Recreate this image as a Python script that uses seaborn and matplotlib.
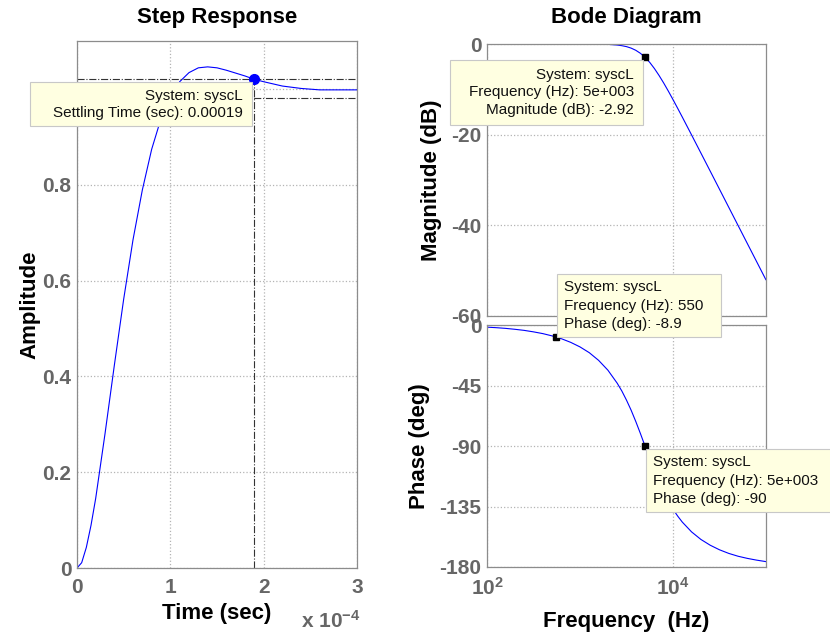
import matplotlib
matplotlib.use("Agg")
import matplotlib.pyplot as plt
import seaborn as sns
from matplotlib.patches import Rectangle
from matplotlib.ticker import NullLocator

# step response of syscL (time in units of 1e-4 s)
step_time = [0, 0.05, 0.1, 0.15, 0.2, 0.3, 0.4, 0.5, 0.6, 0.7, 0.8, 0.9, 1.0, 1.1,
             1.2, 1.3, 1.4, 1.5, 1.6, 1.7, 1.8, 1.9, 2.0, 2.2, 2.4, 2.6, 2.8, 3.0]
step_amp = [0, 0.011, 0.043, 0.089, 0.145, 0.280, 0.423, 0.561, 0.685, 0.789, 0.874,
            0.938, 0.984, 1.015, 1.034, 1.044, 1.046, 1.044, 1.039, 1.033, 1.027,
            1.020, 1.015, 1.006, 1.001, 0.998, 0.998, 0.998]
settle_time = 1.9
settle_amp = 1.02
settle_band = [0.98, 1.02]

# bode diagram of syscL
freq_hz = [100, 126, 158, 200, 251, 316, 398, 501, 631, 794, 1000, 1259, 1585, 1995,
           2512, 2818, 3162, 3548, 3981, 4467, 5012, 5623, 6310, 7079, 7943, 8913,
           10000, 11220, 12589, 15849, 19953, 25119, 31623, 39811, 50119, 63096,
           79433, 100000]
mag_db = [0, 0, 0, 0, 0, 0, 0, 0, 0, 0, 0, -0.01, -0.03, -0.08, -0.23, -0.37, -0.58,
          -0.91, -1.39, -2.06, -2.94, -4.06, -5.41, -6.94, -8.61, -10.40, -12.26,
          -14.18, -16.12, -20.07, -24.05, -28.04, -32.04, -36.04, -40.04, -44.04,
          -48.04, -52.04]
phase_deg = [-1.6, -2.0, -2.5, -3.2, -4.0, -5.1, -6.4, -8.1, -10.2, -12.9, -16.3,
             -20.6, -26.3, -33.6, -43.3, -49.1, -55.9, -63.4, -71.8, -80.8, -90.2,
             -99.5, -108.5, -116.9, -124.4, -131.1, -137.0, -142.1, -146.6, -153.9,
             -159.5, -163.8, -167.2, -169.9, -172.0, -173.6, -174.9, -176.0]
mag_tip = (5000, -2.92)
phase_tip_f = [550, 5000]
phase_tip_deg = [-8.9, -90]

sns.set_style("white")
plt.rcParams["font.family"] = ["Liberation Sans", "DejaVu Sans"]
plt.rcParams["mathtext.fontset"] = "custom"
plt.rcParams["mathtext.rm"] = "Liberation Sans"
plt.rcParams["mathtext.bf"] = "Liberation Sans:bold"
plt.rcParams["mathtext.default"] = "bf"

W, H = 830, 638
fig = plt.figure(figsize=(W / 100, H / 100), dpi=100)


def px_box(x0, y0, x1, y1):
    # pixel box (top-left origin) -> figure fraction rect
    return [x0 / W, 1 - y1 / H, (x1 - x0) / W, (y1 - y0) / H]


ax_step = fig.add_axes(px_box(77, 41, 357, 568))
ax_mag = fig.add_axes(px_box(487, 44, 766, 316))
ax_ph = fig.add_axes(px_box(487, 325, 766, 567))

tick_grey = "#666666"
edge_grey = "#8c8c8c"
lab_kw = dict(fontsize=16, fontweight="bold", color="black")


def style(ax):
    ax.grid(True, color="#b4b4b4", linestyle=":", linewidth=0.9)
    for s in ax.spines.values():
        s.set_visible(True)
        s.set_color(edge_grey)
        s.set_linewidth(0.9)
    ax.tick_params(direction="in", length=3, color=edge_grey, labelcolor=tick_grey,
                   labelsize=15)
    ax.tick_params(axis="y", pad=4)
    ax.tick_params(axis="x", pad=7)


# Step response
sns.lineplot(x=step_time, y=step_amp, ax=ax_step, color="blue", linewidth=0.8)
for b in settle_band:
    ax_step.axhline(b, color="#333333", linestyle="-.", linewidth=0.8)
ax_step.plot([settle_time, settle_time], [0, settle_amp], color="#333333",
             linestyle="-.", linewidth=0.8)
ax_step.plot(settle_time, settle_amp, "o", color="blue", markersize=7)
ax_step.set_xlim(0, 3)
ax_step.set_ylim(0, 1.1)
ax_step.set_xticks([0, 1, 2, 3], ["0", "1", "2", "3"], fontweight="bold")
ax_step.set_yticks([0, 0.2, 0.4, 0.6, 0.8, 1.0],
                   ["0", "0.2", "0.4", "0.6", "0.8", "1"], fontweight="bold")
style(ax_step)
ax_step.set_xlabel("Time (sec)", **lab_kw)
ax_step.set_ylabel("Amplitude", **lab_kw)
ax_step.yaxis.set_label_coords((40 - 77) / 280, 0.5)
ax_step.xaxis.set_label_coords(0.5, (568 - 603) / 527)

# Bode magnitude
sns.lineplot(x=freq_hz, y=mag_db, ax=ax_mag, color="blue", linewidth=0.8)
ax_mag.plot(mag_tip[0], mag_tip[1], "s", color="black", markersize=4.5)
ax_mag.set_xscale("log")
ax_mag.set_xlim(1e2, 1e5)
ax_mag.set_ylim(-60, 0)
ax_mag.set_xticks([1e2, 1e4], ["", ""])
ax_mag.xaxis.set_minor_locator(NullLocator())
ax_mag.set_yticks([-60, -40, -20, 0], ["-60", "-40", "-20", "0"], fontweight="bold")
style(ax_mag)
ax_mag.set_ylabel("Magnitude (dB)", **lab_kw)
ax_mag.yaxis.set_label_coords((442 - 487) / 279, 0.5)

# Bode phase
sns.lineplot(x=freq_hz, y=phase_deg, ax=ax_ph, color="blue", linewidth=0.8)
ax_ph.plot(phase_tip_f, phase_tip_deg, "s", color="black", markersize=4.5,
           linestyle="none")
ax_ph.set_xscale("log")
ax_ph.set_xlim(1e2, 1e5)
ax_ph.set_ylim(-180, 0)
ax_ph.set_xticks([1e2, 1e4], [r"$10^{2}$", r"$10^{4}$"])
ax_ph.xaxis.set_minor_locator(NullLocator())
ax_ph.set_yticks([-180, -135, -90, -45, 0], ["-180", "-135", "-90", "-45", "0"],
                 fontweight="bold")
style(ax_ph)
ax_ph.set_xlabel("Frequency  (Hz)", **lab_kw)
ax_ph.set_ylabel("Phase (deg)", **lab_kw)
ax_ph.yaxis.set_label_coords((430 - 487) / 279, 0.5)
ax_ph.xaxis.set_label_coords(0.5, (567 - 611) / 242)

# titles and exponent
fig.text(217 / W, 1 - 17 / H, "Step Response", ha="center", va="center", **lab_kw)
fig.text(626 / W, 1 - 17 / H, "Bode Diagram", ha="center", va="center", **lab_kw)
fig.text(301 / W, 1 - 628 / H, r"x 10$^{-4}$", ha="left", va="baseline",
         fontsize=15, fontweight="bold", color=tick_grey)


# data tips
def data_tip(x0, y0, x1, y1, lines, tx, ys, ha):
    fig.patches.append(Rectangle((x0 / W, 1 - y1 / H), (x1 - x0) / W, (y1 - y0) / H,
                                 transform=fig.transFigure, facecolor="#ffffe1",
                                 edgecolor="#c8c8c8", linewidth=0.8, zorder=5))
    for txt, y in zip(lines, ys):
        fig.text(tx / W, 1 - y / H, txt, ha=ha, va="center", fontsize=11,
                 color="#111111", zorder=6)


data_tip(30, 82, 252, 126, ["System: syscL", "Settling Time (sec): 0.00019"],
         243, [96, 113], "right")
data_tip(450, 60, 643, 125, ["System: syscL", "Frequency (Hz): 5e+003",
                             "Magnitude (dB): -2.92"], 634, [75, 92, 110], "right")
data_tip(557, 274, 721, 337, ["System: syscL", "Frequency (Hz): 550",
                              "Phase (deg): -8.9"], 564, [287, 306, 324], "left")
data_tip(646, 449, 840, 512, ["System: syscL", "Frequency (Hz): 5e+003",
                              "Phase (deg): -90"], 653, [462, 481, 499], "left")

fig.savefig("out.png", dpi=100)
